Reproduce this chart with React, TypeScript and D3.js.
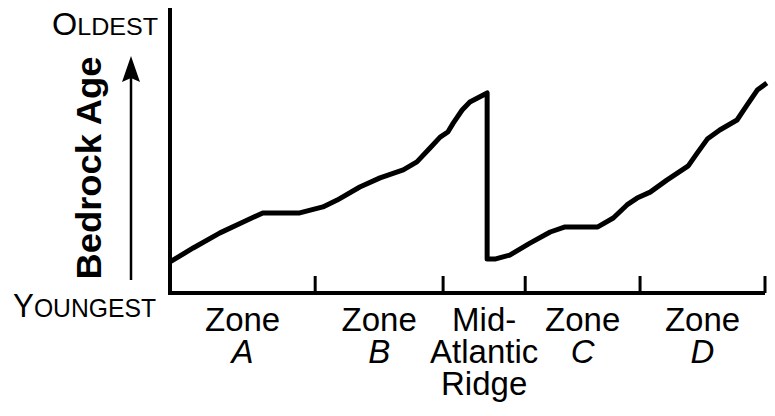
import React from "react";
import * as d3 from "d3";

// distance along the profile (0 = west edge, 100 = east edge) and relative bedrock age (0-100)
const distance = [
  0, 3.9, 8.4, 12.3, 15.6, 21.8, 25.7, 28.1, 31.9, 35.3, 39.2, 41.5, 43.7, 45.4, 46.7, 47.6, 49.1, 50.4, 53.3,
  53.3, 54.6, 57.1, 60.5, 63.9, 66.4, 71.9, 74.5, 76.8, 78.5, 80.7, 83.5, 87.1, 88.6, 90.3, 92.4, 95.3, 97.0, 98.7, 100.3,
];
const age = [
  10.9, 15.8, 21.1, 24.9, 28.1, 28.1, 30.2, 32.6, 37.2, 40.4, 43.2, 46.0, 50.9, 54.7, 56.5, 59.6, 64.2, 67.0, 70.2,
  11.9, 11.9, 13.3, 17.5, 21.4, 23.2, 23.2, 26.3, 30.9, 33.3, 35.4, 39.6, 44.6, 49.1, 54.0, 57.2, 60.7, 66.0, 71.2, 73.7,
];

// region boundaries along the x axis
const boundaries = [0, 24.4, 45.9, 59.7, 79.0, 100];
const regionLines = [["Zone", "A"], ["Zone", "B"], ["Mid-", "Atlantic", "Ridge"], ["Zone", "C"], ["Zone", "D"]];
const italicLine = [true, true, false, true, true];

const W = 775;
const H = 416;
const font = "'Liberation Sans', Arial, Helvetica, sans-serif";

export default function App() {
  const x = d3.scaleLinear().domain([0, 100]).range([170, 765]);
  const y = d3.scaleLinear().domain([0, 100]).range([293, 8]);

  const pts = distance.map((d, i) => [d, age[i]] as [number, number]);
  const line = d3
    .line<[number, number]>()
    .x((d) => x(d[0]))
    .y((d) => y(d[1]))
    .curve(d3.curveLinear);

  const x0 = x(0);
  const yBase = y(0);

  return (
    <div style={{ position: "absolute", left: 0, top: 0 }}>
      <svg width={W} height={H} style={{ display: "block", background: "#fff" }}>
        {/* axes */}
        <line x1={x0} x2={x0} y1={y(100)} y2={yBase + 2} stroke="#000" strokeWidth={4} />
        <line x1={x0 - 2} x2={x(100)} y1={yBase} y2={yBase} stroke="#000" strokeWidth={4} />
        {boundaries.slice(1).map((b, i) => (
          <line key={i} x1={x(b)} x2={x(b)} y1={yBase - 17} y2={yBase} stroke="#000" strokeWidth={3} />
        ))}

        {/* profile */}
        <path d={line(pts) || ""} fill="none" stroke="#000" strokeWidth={5} strokeLinejoin="round" />

        {/* region labels */}
        {regionLines.map((lines, i) => {
          const cx = (x(boundaries[i]) + x(boundaries[i + 1])) / 2;
          return (
            <text key={i} x={cx} textAnchor="middle" fontFamily={font} fontSize={33} fill="#000">
              {lines.map((t, j) => (
                <tspan
                  key={j}
                  x={cx}
                  y={331 + j * 32}
                  fontStyle={j === 1 && italicLine[i] ? "italic" : "normal"}
                >
                  {t}
                </tspan>
              ))}
            </text>
          );
        })}

        {/* y-axis end labels */}
        <text x={158} y={35} textAnchor="end" fontFamily={font} fill="#000" textLength={106} lengthAdjust="spacingAndGlyphs">
          <tspan fontSize={31}>O</tspan>
          <tspan fontSize={24}>LDEST</tspan>
        </text>
        <text x={156} y={317} textAnchor="end" fontFamily={font} fill="#000" textLength={143} lengthAdjust="spacingAndGlyphs">
          <tspan fontSize={33}>Y</tspan>
          <tspan fontSize={26}>OUNGEST</tspan>
        </text>

        {/* axis title and arrow */}
        <text
          transform="translate(101,168) rotate(-90)"
          textAnchor="middle"
          fontFamily={font}
          fontWeight="bold"
          fontSize={35}
          fill="#000"
          textLength={223}
          lengthAdjust="spacingAndGlyphs"
        >
          Bedrock Age
        </text>
        <line x1={131} x2={131} y1={280} y2={76} stroke="#000" strokeWidth={2.5} />
        <path d="M131,56 L122,82 L131,78 L140,82 Z" fill="#000" />
      </svg>
    </div>
  );
}
